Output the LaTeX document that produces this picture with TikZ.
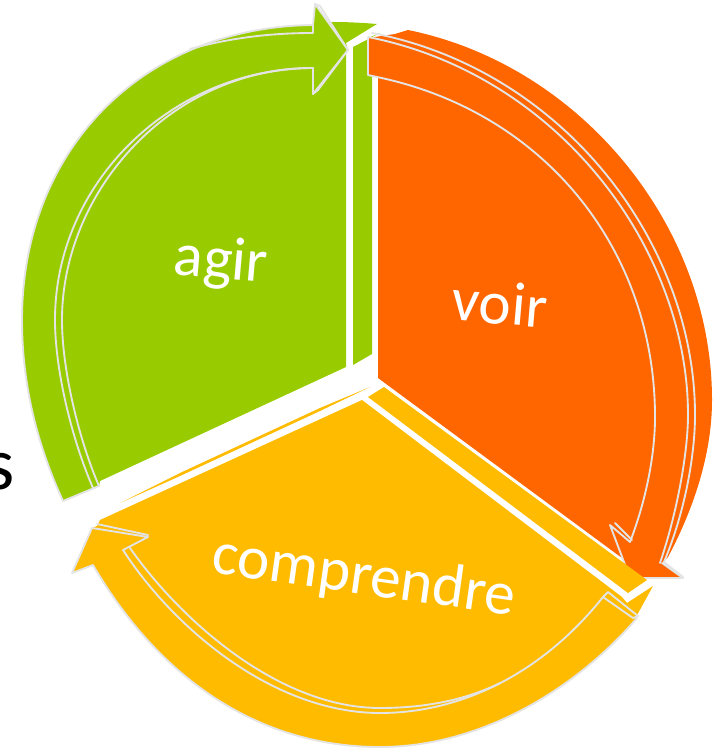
\documentclass[tikz,border=0pt]{standalone}
\usepackage{fontspec}
\setmainfont{Carlito}
\definecolor{grn}{HTML}{99CC00}
\definecolor{org}{HTML}{FF6600}
\definecolor{yel}{HTML}{FFBB00}
\definecolor{edge}{HTML}{E4E4E4}
\tikzset{
  outline/.style={draw=edge,line width=1.4pt,line join=round,line cap=round},
  label/.style={text=white,font=\fontsize{46}{50}\selectfont,inner sep=0pt,anchor=center}
}
\begin{document}
\begin{tikzpicture}[x=0.75pt,y=-0.75pt]
\useasboundingbox (0,0) rectangle (721,748);
% stray letter at left edge
\node[font=\fontsize{56}{60}\selectfont,text=black,inner sep=0pt] (frag) at (0,472) {s};

% GREEN
\fill[grn] (313,24) -- (333,22) .. controls (350,22) and (365,23) .. (377,24) -- (346,43) -- (348,50) -- (313,40) -- cycle;
\fill[grn] (353,47) -- (380,33) -- (368,38) -- (368,75) -- (372,75) -- (372,354) -- (353,365) -- cycle;
\fill[grn] (63,501) .. controls (35,440) and (22,380) .. (22,320)
  .. controls (22,150) and (142,27) .. (313,25) -- (315,4) -- (348,50) -- (346,53) -- (346,367) -- (100,481) -- (99,486) -- cycle;
\draw[outline] (99,486) -- (63,501) .. controls (35,440) and (22,380) .. (22,320)
  .. controls (22,150) and (142,27) .. (313,25) -- (315,4) -- (348,50) -- (313,94) -- (313,68)
  .. controls (175,68) and (55,180) .. (55,320) .. controls (55,370) and (72,440) .. (93,488);
\draw[outline] (99,486) .. controls (79,440) and (62,370) .. (62,320) .. controls (62,190) and (172,68) .. (313,68);
\draw[outline] (315,4) -- (320,6) -- (348,50) -- (318,90) -- (313,94);
\draw[outline] (190,49) .. controls (230,38) and (270,33) .. (313,33) -- (313,25);

% ORANGE
\fill[org] (378,378) -- (378,77) -- (368,75) -- (368,38) -- (395,34) -- (408,30)
  .. controls (580,65) and (712,225) .. (712,400) .. controls (712,455) and (693,510) .. (668,557)
  -- (662,563) -- (683,578) -- (630,578) -- (622,558) -- cycle;
\draw[outline] (377,77) -- (368,75) -- (368,38);
\draw[outline] (377,77) .. controls (545,112) and (655,250) .. (655,417) .. controls (655,450) and (648,495) .. (630,542)
  -- (610,525) -- (630,578) -- (683,578) -- (662,563);
\draw[outline] (615,523) -- (632,540);
\draw[outline] (368,37) .. controls (560,75) and (688,250) .. (688,415) .. controls (688,450) and (678,510) .. (660,563);
\draw[outline] (372,33) .. controls (565,70) and (695,245) .. (695,415) .. controls (695,455) and (685,512) .. (664,562) -- (683,577);

% YELLOW
\fill[yel] (120,503) -- (180,476) -- (320,411) -- (370,387) -- (320,408) -- (180,473) -- cycle;
\fill[yel] (368,397) -- (384,387) -- (647,580) -- (628,593) -- cycle;
\fill[yel] (100,520) -- (362,400) -- (622,597) -- (627,603) -- (653,586) -- (636,617) -- (637,618)
  .. controls (575,690) and (480,747) .. (380,747) .. controls (260,747) and (160,680) .. (93,565)
  -- (72,573) -- (92,528) -- (97,526) -- cycle;
\draw[outline] (637,618) .. controls (575,690) and (480,747) .. (380,747) .. controls (260,747) and (160,680) .. (93,565)
  -- (72,573) -- (92,528) -- (148,537) -- (123,550)
  .. controls (175,630) and (275,713) .. (380,713) .. controls (465,713) and (545,670) .. (603,597)
  -- (633,618) -- (638,616) -- (608,592) -- (603,597);
\draw[outline] (130,548) .. controls (182,622) and (280,708) .. (380,708) .. controls (430,708) and (470,698) .. (500,683);
\draw[outline] (97,524) -- (148,535);

% LABELS
\node[label,rotate=-5] (agir) at (221,263) {agir};
\node[label,rotate=-5] (voir) at (500,303) {voir};
\node[label,rotate=-8] (comprendre) at (364,578) {comprendre};
\end{tikzpicture}
\end{document}
